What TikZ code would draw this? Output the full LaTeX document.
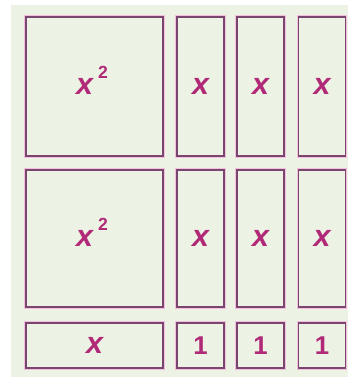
\documentclass[tikz,border=0pt]{standalone}
\usepackage{fontspec}
\setmainfont{Liberation Sans}
\usepackage{xcolor}
\usetikzlibrary{positioning}
\definecolor{edge}{HTML}{7A4670}
\definecolor{glow}{HTML}{F2BFDC}
\definecolor{paper}{HTML}{EDF3E4}
\definecolor{ink}{HTML}{B02A78}
\newcommand{\sqlabel}{\itshape x\hspace{4.3pt}\smash{\raisebox{13.6pt}{\upshape\fontsize{15}{15}\selectfont 2}}}

\begin{document}
\begin{tikzpicture}[x=0.3mm, y=-0.3mm,
    tile/.style={draw=edge, line width=1.2pt, fill=paper, inner sep=0pt,
                 preaction={draw=glow, line width=2.8pt},
                 text=ink, font=\fontsize{22}{24}\selectfont\bfseries},
    var/.style={font=\fontsize{26}{28}\selectfont\bfseries\itshape}]
  % Page and background.
  \useasboundingbox (0,0) rectangle (348,377);
  \fill[paper] (11,5) rectangle (348,377);

  % Top row: x^2 and three x strips.
  \node[tile, var, minimum width=41.1mm, minimum height=41.7mm] (sqA) at (94.5,86.5) {};
  \node[text=ink, var] (sqAtxt) at (92,86) {\sqlabel};
  \node[tile, var, minimum width=14.1mm, minimum height=41.7mm] (colA1) at (200.5,86.5) {x};
  \node[tile, var, minimum width=14.1mm, minimum height=41.7mm] (colA2) at (260.5,86.5) {x};
  \node[tile, var, minimum width=14.1mm, minimum height=41.7mm] (colA3) at (322,86.5) {x};

  % Middle row: the same tiles again.
  \node[tile, var, minimum width=41.1mm, minimum height=41.1mm] (sqB) at (94.5,238.5) {};
  \node[text=ink, var] (sqBtxt) at (92,238) {\sqlabel};
  \node[tile, var, minimum width=14.1mm, minimum height=41.1mm] (colB1) at (200.5,238.5) {x};
  \node[tile, var, minimum width=14.1mm, minimum height=41.1mm] (colB2) at (260.5,238.5) {x};
  \node[tile, var, minimum width=14.1mm, minimum height=41.1mm] (colB3) at (322,238.5) {x};

  % Bottom row: one x bar and three unit squares.
  \node[tile, var, minimum width=41.1mm, minimum height=13.5mm] (bar) at (94.5,345.5) {x};
  \node[tile, minimum width=14.1mm, minimum height=13.5mm] (unit1) at (200.5,345.5) {1};
  \node[tile, minimum width=14.1mm, minimum height=13.5mm] (unit2) at (260.5,345.5) {1};
  \node[tile, minimum width=14.1mm, minimum height=13.5mm] (unit3) at (322,345.5) {1};
\end{tikzpicture}
\end{document}
